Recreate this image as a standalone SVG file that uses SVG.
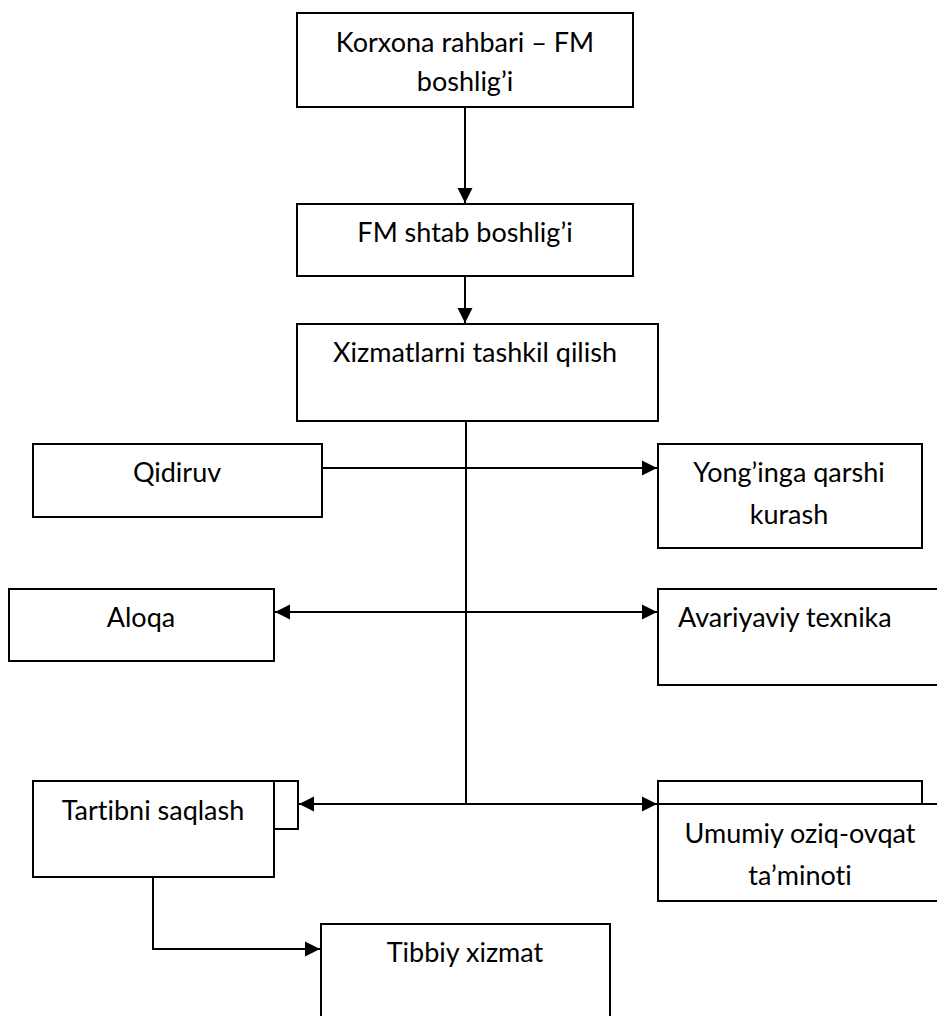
<svg xmlns="http://www.w3.org/2000/svg" width="937" height="1016" viewBox="0 0 937 1016">
<style>
.box{fill:#fff;stroke:#000;stroke-width:2}
.ln{fill:none;stroke:#000;stroke-width:2}
text{font-family:Lato,"Open Sans","Liberation Sans",sans-serif;font-size:27px;fill:#000;font-variant-ligatures:none}
.c{text-anchor:middle}
</style>
<defs>
<marker id="ah" markerUnits="userSpaceOnUse" markerWidth="17" markerHeight="16" refX="15" refY="7.5" orient="auto-start-reverse" viewBox="0 0 17 15">
<path d="M0,0 L15,7.5 L0,15 Z" fill="#000"/>
</marker>
</defs>
<rect width="937" height="1016" fill="#fff"/>
<g id="connectors">
<line class="ln" x1="465" y1="107" x2="465" y2="203" marker-end="url(#ah)"/>
<line class="ln" x1="465" y1="276" x2="465" y2="323" marker-end="url(#ah)"/>
<line class="ln" x1="466" y1="421" x2="466" y2="805"/>
<line class="ln" x1="322" y1="468" x2="657" y2="468" marker-end="url(#ah)"/>
<line class="ln" x1="275" y1="612" x2="657" y2="612" marker-start="url(#ah)" marker-end="url(#ah)"/>
<line class="ln" x1="299" y1="804" x2="657" y2="804" marker-start="url(#ah)" marker-end="url(#ah)"/>
<polyline class="ln" points="153,877 153,949 320,949" marker-end="url(#ah)"/>
</g>
<g id="n1">
<rect class="box" x="297" y="13" width="336" height="94"/>
<text class="c" x="465" y="52">Korxona rahbari – FM</text>
<text class="c" x="465" y="91">boshlig’i</text>
</g>
<g id="n2">
<rect class="box" x="297" y="204" width="336" height="72"/>
<text class="c" x="465" y="242">FM shtab boshlig’i</text>
</g>
<g id="n3">
<rect class="box" x="297" y="324" width="361" height="97"/>
<text class="c" x="475" y="362">Xizmatlarni tashkil qilish</text>
</g>
<g id="n4">
<rect class="box" x="33" y="444" width="289" height="73"/>
<text class="c" x="177" y="482">Qidiruv</text>
</g>
<g id="n5">
<rect class="box" x="658" y="444" width="264" height="104"/>
<text class="c" x="789" y="482">Yong’inga qarshi</text>
<text class="c" x="789" y="524">kurash</text>
</g>
<g id="n6">
<rect class="box" x="9" y="589" width="265" height="72"/>
<text class="c" x="141" y="627">Aloqa</text>
</g>
<g id="n7">
<rect class="box" x="658" y="589" width="290" height="96"/>
<text x="678" y="627">Avariyaviy texnika</text>
</g>
<g id="n8">
<rect class="box" x="250" y="781" width="48" height="48"/>
<rect class="box" x="33" y="781" width="241" height="96"/>
<text class="c" x="153" y="820">Tartibni saqlash</text>
</g>
<g id="n9">
<rect class="box" x="658" y="781" width="264" height="23"/>
<rect class="box" x="658" y="804" width="290" height="97"/>
<text class="c" x="800" y="843">Umumiy oziq-ovqat</text>
<text class="c" x="800" y="885">ta’minoti</text>
</g>
<g id="n10">
<rect class="box" x="321" y="924" width="289" height="110"/>
<text class="c" x="465" y="962">Tibbiy xizmat</text>
</g>
</svg>
